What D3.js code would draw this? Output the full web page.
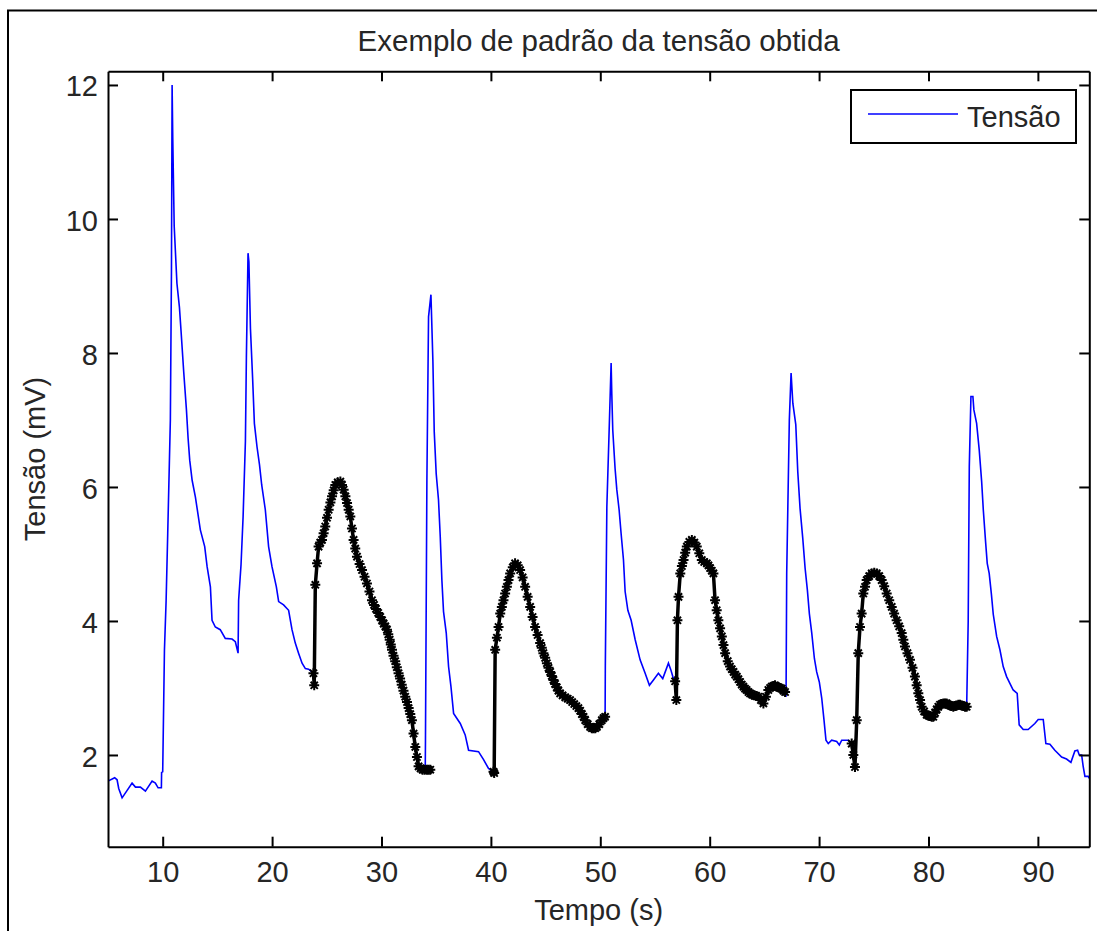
<!DOCTYPE html>
<html>
<head>
<meta charset="utf-8">
<script src="https://cdn.jsdelivr.net/npm/d3@7"></script>
<style>
  body { margin: 0; background: #fff; }
  svg { display: block; }
  text { font-family: "Liberation Sans", Arial, Helvetica, sans-serif; fill: #262626; }
</style>
</head>
<body>
<svg id="grafico" width="1097" height="931"></svg>
<script>
// ---- Dados: tempo (s), tensão (mV) ----
// Trechos do sinal desenhados em azul
const trechoAzul1 = [[5.00,1.61],[5.61,1.66],[5.83,1.63],[5.98,1.50],[6.29,1.36],[7.20,1.58],[7.51,1.52],[7.96,1.52],[8.42,1.46],[9.03,1.61],[9.33,1.58],[9.58,1.51],[9.88,1.51],[9.90,1.74],[10.00,1.75],[10.16,3.57],[10.31,4.29],[10.46,5.31],[10.70,7.00],[10.80,9.21],[10.86,12.00],[10.92,11.20],[11.05,9.90],[11.30,9.04],[11.53,8.68],[11.68,8.32],[11.92,7.72],[12.17,7.15],[12.32,6.73],[12.47,6.40],[12.69,6.10],[12.99,5.85],[13.44,5.36],[13.84,5.11],[14.06,4.81],[14.36,4.51],[14.51,4.01],[14.81,3.91],[15.26,3.87],[15.72,3.74],[16.34,3.73],[16.64,3.69],[16.89,3.52],[16.94,4.31],[17.16,4.84],[17.35,5.56],[17.56,6.68],[17.65,7.94],[17.80,9.49],[17.88,9.36],[18.02,8.37],[18.22,7.62],[18.38,6.95],[18.62,6.60],[18.85,6.33],[19.05,6.03],[19.38,5.66],[19.68,5.11],[19.99,4.81],[20.39,4.51],[20.60,4.29],[21.05,4.24],[21.51,4.16],[21.82,3.87],[22.12,3.67],[22.42,3.52],[22.74,3.37],[23.04,3.29],[23.34,3.28],[23.78,3.22]];
const trechoAzul2 = [[34.00,1.80],[34.02,2.22],[34.15,6.10],[34.30,8.54],[34.52,8.87],[34.70,7.87],[34.82,6.83],[35.00,6.20],[35.21,5.81],[35.37,5.26],[35.52,4.61],[35.67,4.14],[35.92,3.82],[36.13,3.32],[36.35,3.02],[36.59,2.62],[37.20,2.47],[37.65,2.30],[37.96,2.07],[38.87,2.05],[39.33,1.93],[39.78,1.80],[40.24,1.75]];
const trechoAzul3 = [[50.44,2.57],[50.46,3.32],[50.60,5.71],[50.81,6.85],[50.99,7.85],[51.05,7.40],[51.14,6.85],[51.35,6.28],[51.51,5.96],[51.72,5.66],[51.90,5.31],[52.12,4.91],[52.27,4.44],[52.52,4.16],[52.82,4.01],[53.19,3.72],[53.64,3.42],[54.10,3.22],[54.49,3.04],[54.86,3.12],[55.31,3.22],[55.71,3.14],[56.23,3.37],[56.45,3.27],[56.63,3.17],[56.84,3.10]];
const trechoAzul4 = [[66.89,2.94],[66.98,2.87],[67.04,4.71],[67.28,7.00],[67.44,7.70],[67.60,7.25],[67.87,6.93],[68.05,6.23],[68.26,5.68],[68.51,5.23],[68.72,4.79],[68.93,4.46],[69.11,4.11],[69.33,3.82],[69.57,3.44],[69.78,3.24],[70.02,3.09],[70.24,2.85],[70.45,2.52],[70.63,2.22],[70.84,2.17],[71.15,2.22],[71.61,2.20],[71.85,2.15],[72.07,2.22],[72.67,2.22],[72.98,2.17]];
const trechoAzul5 = [[83.49,2.72],[83.63,3.99],[83.73,6.30],[83.88,7.35],[84.06,7.35],[84.15,7.15],[84.40,6.95],[84.64,6.55],[84.86,6.08],[85.01,5.66],[85.22,5.18],[85.37,4.86],[85.55,4.71],[85.75,4.40],[85.92,4.10],[86.23,3.77],[86.53,3.57],[86.83,3.32],[87.14,3.17],[87.44,3.07],[87.74,2.97],[88.11,2.92],[88.29,2.45],[88.66,2.38],[89.11,2.38],[89.72,2.47],[90.03,2.53],[90.49,2.53],[90.73,2.17],[91.10,2.16],[91.55,2.07],[92.17,1.97],[92.62,1.94],[93.02,1.89],[93.38,2.06],[93.63,2.07],[93.78,2.00],[94.00,2.00],[94.14,1.83],[94.30,1.68],[94.60,1.68],[94.70,1.65]];

// Janelas destacadas em preto com marcadores
const destaque1 = [[23.78,3.22],[23.85,3.04],[23.95,4.54],[24.11,4.86],[24.25,5.11],[24.40,5.17],[24.56,5.21],[24.71,5.31],[24.86,5.41],[25.02,5.54],[25.17,5.66],[25.33,5.77],[25.48,5.86],[25.63,5.95],[25.78,6.03],[26.00,6.07],[26.24,6.08],[26.39,6.03],[26.54,5.96],[26.70,5.86],[26.85,5.76],[27.00,5.66],[27.15,5.56],[27.30,5.38],[27.45,5.21],[27.60,5.08],[27.76,4.96],[28.00,4.85],[28.22,4.76],[28.45,4.66],[28.67,4.56],[28.90,4.44],[29.13,4.31],[29.32,4.24],[29.50,4.18],[29.70,4.12],[29.89,4.06],[30.05,4.01],[30.20,3.96],[30.35,3.92],[30.50,3.87],[30.62,3.80],[30.75,3.72],[30.85,3.65],[30.96,3.57],[31.10,3.48],[31.25,3.40],[31.40,3.31],[31.56,3.22],[31.70,3.14],[31.85,3.05],[32.01,2.96],[32.17,2.87],[32.33,2.79],[32.48,2.70],[32.63,2.61],[32.78,2.52],[32.93,2.32],[33.09,2.12],[33.24,1.97],[33.39,1.83],[33.57,1.80],[33.75,1.78],[33.95,1.78],[34.15,1.78],[34.30,1.78],[34.46,1.78]];
const destaque2 = [[40.24,1.75],[40.30,1.73],[40.39,3.57],[40.55,3.75],[40.70,3.91],[40.85,4.11],[41.00,4.21],[41.15,4.31],[41.30,4.41],[41.46,4.51],[41.61,4.61],[41.76,4.71],[42.00,4.80],[42.21,4.86],[42.45,4.83],[42.67,4.76],[42.90,4.65],[43.13,4.51],[43.36,4.36],[43.59,4.21],[43.81,4.06],[44.04,3.91],[44.27,3.79],[44.50,3.67],[44.65,3.60],[44.80,3.52],[44.96,3.45],[45.12,3.37],[45.27,3.30],[45.42,3.24],[45.57,3.18],[45.72,3.12],[45.87,3.06],[46.02,3.01],[46.17,2.96],[46.33,2.92],[46.55,2.89],[46.80,2.86],[47.02,2.84],[47.24,2.82],[47.43,2.79],[47.62,2.76],[47.81,2.73],[48.00,2.70],[48.16,2.66],[48.32,2.61],[48.47,2.57],[48.62,2.52],[48.85,2.46],[49.07,2.42],[49.23,2.40],[49.38,2.40],[49.54,2.40],[49.69,2.42],[49.91,2.46],[50.14,2.52],[50.29,2.55],[50.44,2.57]];
const destaque3 = [[56.84,3.10],[56.95,2.82],[57.05,4.01],[57.15,4.36],[57.31,4.71],[57.46,4.82],[57.61,4.91],[57.76,5.02],[57.91,5.11],[58.14,5.18],[58.37,5.21],[58.60,5.17],[58.82,5.11],[59.05,5.01],[59.28,4.91],[59.50,4.88],[59.74,4.86],[59.89,4.83],[60.04,4.79],[60.19,4.75],[60.34,4.71],[60.49,4.31],[60.64,4.16],[60.79,4.01],[60.95,3.89],[61.11,3.77],[61.26,3.64],[61.41,3.52],[61.65,3.40],[61.86,3.32],[62.02,3.28],[62.18,3.24],[62.33,3.20],[62.48,3.17],[62.63,3.13],[62.78,3.09],[62.93,3.05],[63.08,3.02],[63.23,2.99],[63.38,2.97],[63.54,2.94],[63.69,2.92],[63.88,2.90],[64.07,2.89],[64.26,2.88],[64.45,2.87],[64.68,2.82],[64.91,2.77],[65.14,2.87],[65.36,2.97],[65.52,3.00],[65.67,3.02],[65.82,3.03],[65.97,3.04],[66.13,3.02],[66.28,3.01],[66.44,3.00],[66.59,2.99],[66.74,2.96],[66.89,2.94]];
const destaque4 = [[72.98,2.17],[73.13,2.00],[73.28,1.82],[73.44,2.52],[73.58,3.52],[73.74,3.91],[73.89,4.11],[74.04,4.41],[74.20,4.51],[74.35,4.61],[74.58,4.67],[74.81,4.71],[75.04,4.72],[75.27,4.71],[75.50,4.67],[75.72,4.61],[75.95,4.52],[76.18,4.41],[76.41,4.31],[76.64,4.21],[76.86,4.11],[77.09,4.01],[77.32,3.92],[77.55,3.82],[77.70,3.72],[77.85,3.62],[78.08,3.52],[78.31,3.42],[78.54,3.30],[78.76,3.17],[78.92,3.04],[79.07,2.92],[79.23,2.82],[79.38,2.72],[79.60,2.65],[79.83,2.60],[79.98,2.59],[80.14,2.58],[80.29,2.57],[80.44,2.57],[80.60,2.63],[80.75,2.68],[80.90,2.72],[81.05,2.75],[81.20,2.76],[81.36,2.77],[81.51,2.77],[81.66,2.77],[81.82,2.75],[81.97,2.74],[82.12,2.73],[82.27,2.72],[82.43,2.73],[82.58,2.74],[82.73,2.75],[82.88,2.75],[83.03,2.74],[83.19,2.73],[83.34,2.72],[83.49,2.72]];

const trechosAzuis = [trechoAzul1, trechoAzul2, trechoAzul3, trechoAzul4, trechoAzul5];
const destaques = [destaque1, destaque2, destaque3, destaque4];

// Eixos
const xDominio = [5, 94.7];
const yDominio = [0.631, 12.204];
const xTicks = [10, 20, 30, 40, 50, 60, 70, 80, 90];
const yTicks = [2, 4, 6, 8, 10, 12];

const titulo = "Exemplo de padrão da tensão obtida";
const rotuloX = "Tempo (s)";
const rotuloY = "Tensão (mV)";
const rotuloLegenda = "Tensão";

// ---- Desenho ----
const svg = d3.select("#grafico");
const area = { left: 108, top: 71.3, right: 1089.3, bottom: 846.7 };
const fonte = 29;

const x = d3.scaleLinear().domain(xDominio).range([area.left, area.right]);
const y = d3.scaleLinear().domain(yDominio).range([area.bottom, area.top]);

// moldura externa da figura
svg.append("rect")
  .attr("x", 8).attr("y", 10.5)
  .attr("width", 1100).attr("height", 940)
  .attr("fill", "none").attr("stroke", "#000").attr("stroke-width", 2);

svg.append("defs").append("clipPath").attr("id", "recorte")
  .append("rect")
  .attr("x", area.left).attr("y", area.top)
  .attr("width", area.right - area.left).attr("height", area.bottom - area.top);

const linha = d3.line().x(d => x(d[0])).y(d => y(d[1]));
const dados = svg.append("g").attr("clip-path", "url(#recorte)");

// sinal completo em azul
dados.selectAll("path.azul").data(trechosAzuis).join("path")
  .attr("class", "azul")
  .attr("d", linha)
  .attr("fill", "none")
  .attr("stroke", "#0000ff")
  .attr("stroke-width", 1.6)
  .attr("stroke-linejoin", "miter");

// janelas destacadas: linha preta grossa + marcadores '*'
dados.selectAll("path.destaque").data(destaques).join("path")
  .attr("class", "destaque")
  .attr("d", linha)
  .attr("fill", "none")
  .attr("stroke", "#000")
  .attr("stroke-width", 3.5);

const r = 5, a = 3.6;
const asterisco = `M${-r},0L${r},0M0,${-r}L0,${r}M${-a},${-a}L${a},${a}M${-a},${a}L${a},${-a}`;
dados.selectAll("path.marcador").data(destaques.flat()).join("path")
  .attr("class", "marcador")
  .attr("transform", d => `translate(${x(d[0])},${y(d[1])})`)
  .attr("d", asterisco)
  .attr("fill", "none")
  .attr("stroke", "#000")
  .attr("stroke-width", 2);

// eixos com marcas internas nos quatro lados
function estilo(g) {
  g.select(".domain").attr("stroke", "#000").attr("stroke-width", 2);
  g.selectAll(".tick line").attr("stroke", "#000").attr("stroke-width", 2);
  g.selectAll(".tick text").attr("font-size", fonte).attr("fill", "#262626")
    .attr("font-family", '"Liberation Sans", Arial, sans-serif');
}

svg.append("g").attr("transform", `translate(0,${area.bottom})`)
  .call(d3.axisBottom(x).tickValues(xTicks).tickSizeInner(-10).tickSizeOuter(0).tickPadding(14.5))
  .call(estilo);
svg.append("g").attr("transform", `translate(0,${area.top})`)
  .call(d3.axisTop(x).tickValues(xTicks).tickSizeInner(-10).tickSizeOuter(0).tickFormat(""))
  .call(estilo);
svg.append("g").attr("transform", `translate(${area.left},0)`)
  .call(d3.axisLeft(y).tickValues(yTicks).tickSizeInner(-10).tickSizeOuter(0).tickPadding(10))
  .call(estilo)
  .selectAll(".tick text").attr("dy", "0.38em");
svg.append("g").attr("transform", `translate(${area.right},0)`)
  .call(d3.axisRight(y).tickValues(yTicks).tickSizeInner(-10).tickSizeOuter(0).tickFormat(""))
  .call(estilo);

// título e rótulos
const centroX = (area.left + area.right) / 2;
svg.append("text").attr("x", centroX).attr("y", 51)
  .attr("text-anchor", "middle").attr("font-size", 29.5).text(titulo);
svg.append("text").attr("x", centroX).attr("y", 920)
  .attr("text-anchor", "middle").attr("font-size", fonte).text(rotuloX);
svg.append("text")
  .attr("transform", `translate(45,${(area.top + area.bottom) / 2}) rotate(-90)`)
  .attr("text-anchor", "middle").attr("font-size", fonte).text(rotuloY);

// legenda
const leg = svg.append("g");
leg.append("rect").attr("x", 851).attr("y", 90).attr("width", 225).attr("height", 53)
  .attr("fill", "#fff").attr("stroke", "#000").attr("stroke-width", 2);
leg.append("line").attr("x1", 868).attr("x2", 958).attr("y1", 114).attr("y2", 114)
  .attr("stroke", "#0000ff").attr("stroke-width", 1.5);
leg.append("text").attr("x", 967).attr("y", 127).attr("font-size", fonte).text(rotuloLegenda);
</script>
</body>
</html>
